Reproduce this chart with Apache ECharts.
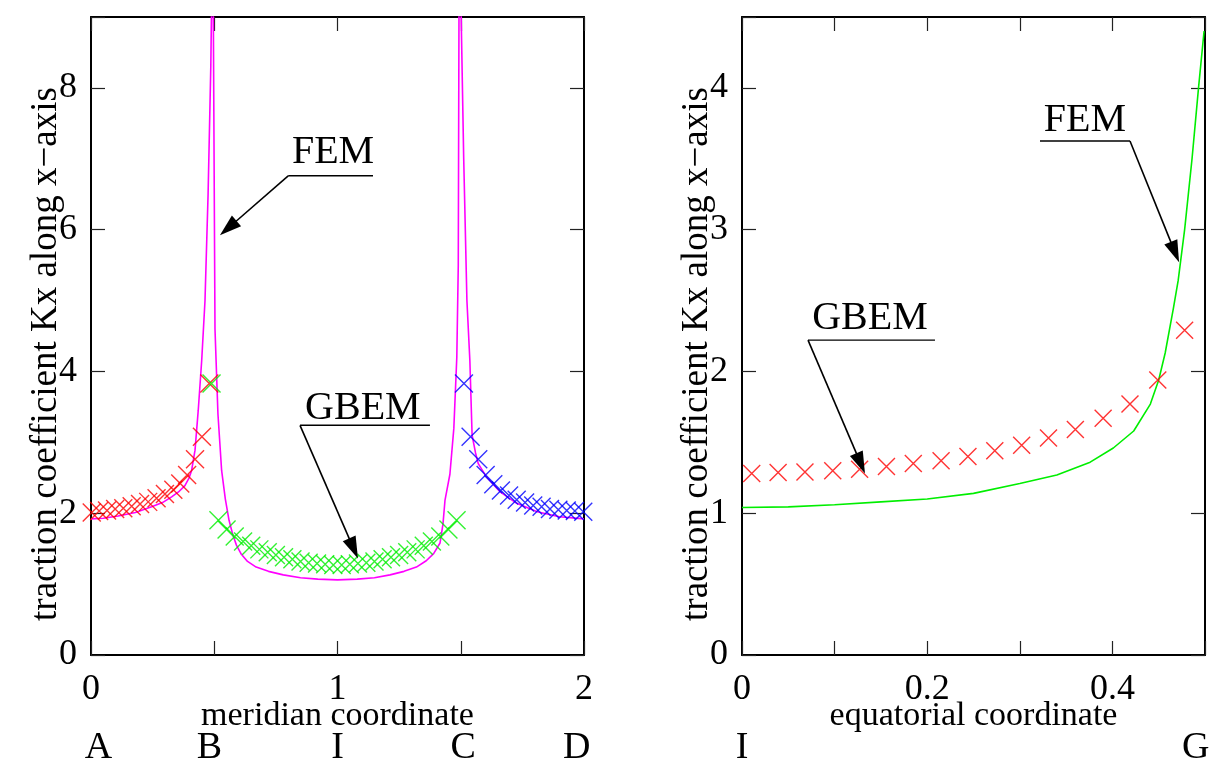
<!DOCTYPE html>
<html><head><meta charset="utf-8">
<script src="https://cdn.jsdelivr.net/npm/echarts@6/dist/echarts.min.js"></script>
<style>html,body{margin:0;padding:0;background:#fff}#c{width:1216px;height:765px}</style>
</head><body><div id="c"></div>
<script>
// ---------- data ----------
const femMeridian = [
  [0,1.92],[0.05,1.93],[0.11,1.96],[0.18,2.01],[0.246,2.09],[0.29,2.15],[0.327,2.23],[0.355,2.3],
  [0.381,2.39],[0.398,2.5],[0.408,2.6],[0.422,2.89],[0.435,3.45],[0.449,4.15],[0.4625,5.0],[0.475,6.5],
  [0.486,8.3],[0.494,10.5],[0.4975,10.5],[0.503,4.6],[0.515,3.4],[0.53,2.6],[0.545,2.2],[0.56,1.9],
  [0.575,1.7],[0.59,1.55],[0.61,1.42],[0.635,1.32],[0.67,1.24],[0.72,1.18],[0.78,1.13],[0.85,1.09],
  [0.92,1.07],[1.0,1.06],[1.08,1.07],[1.15,1.09],[1.213,1.13],[1.27,1.18],[1.32,1.24],[1.36,1.33],
  [1.39,1.43],[1.416,1.58],[1.428,1.85],[1.436,2.18],[1.456,2.55],[1.472,3.2],[1.484,4.2],[1.49,5.5],
  [1.494,10.5],[1.5,10.5],[1.512,7.0],[1.525,5.0],[1.537,4.15],[1.546,3.1],[1.56,2.85],[1.571,2.7],
  [1.605,2.51],[1.66,2.3],[1.727,2.14],[1.81,2.02],[1.9,1.95],[2.0,1.92]
];
const gbemRed = [
  [0.003,2.01],[0.033,2.03],[0.065,2.04],[0.098,2.06],[0.131,2.07],[0.165,2.10],[0.199,2.13],[0.232,2.16],
  [0.266,2.21],[0.3,2.27],[0.334,2.33],[0.362,2.42],[0.39,2.54],[0.422,2.76],[0.45,3.08],[0.48,3.83]
];
const gbemGreen = [
  [0.489,3.83],[0.517,1.90],[0.55,1.77],[0.583,1.67],[0.617,1.60],[0.65,1.54],[0.683,1.49],[0.717,1.45],
  [0.75,1.41],[0.783,1.38],[0.817,1.35],[0.85,1.32],[0.883,1.30],[0.917,1.29],[0.95,1.28],[0.983,1.27],
  [1.017,1.27],[1.05,1.28],[1.083,1.29],[1.117,1.30],[1.15,1.32],[1.183,1.35],[1.217,1.38],[1.25,1.41],
  [1.283,1.45],[1.317,1.49],[1.35,1.54],[1.383,1.60],[1.417,1.67],[1.45,1.77],[1.483,1.90]
];
const gbemBlue = [
  [1.513,3.83],[1.54,3.08],[1.571,2.76],[1.601,2.54],[1.632,2.41],[1.663,2.32],[1.696,2.25],[1.727,2.19],
  [1.761,2.15],[1.794,2.11],[1.828,2.09],[1.862,2.06],[1.896,2.05],[1.93,2.04],[1.963,2.03],[1.997,2.02]
];
const femEquatorial = [
  [0,1.04],[0.05,1.045],[0.1,1.06],[0.15,1.08],[0.2,1.10],[0.25,1.14],[0.3,1.21],[0.34,1.27],
  [0.376,1.36],[0.401,1.46],[0.423,1.58],[0.441,1.77],[0.45,1.94],[0.457,2.13],[0.466,2.45],[0.471,2.64],
  [0.478,3.0],[0.486,3.5],[0.493,4.0],[0.499,4.4]
];
const gbemEquatorial = [
  [0.0105,1.28],[0.039,1.287],[0.068,1.29],[0.098,1.30],[0.127,1.31],[0.156,1.33],[0.185,1.35],[0.215,1.37],
  [0.244,1.40],[0.273,1.44],[0.302,1.48],[0.331,1.53],[0.36,1.59],[0.39,1.67],[0.419,1.77],[0.449,1.94],[0.478,2.29]
];
const meridianLetters = ['A','B','I','C','D'];
const meridianLetterAt = [0.03,0.48,1.0,1.51,1.97];
const equatorLetters = ['I','G'];
const equatorLetterAt = [0.0,0.49];
const yTitle = 'traction coefficient Kx along x\u2212axis';
const xTitles = ['meridian coordinate','equatorial coordinate'];
// annotation anchors in data coordinates: text centre, underline (far end, arrow start), arrow tip
const notes = [
  {grid:0, text:'FEM',  at:[0.982,7.09], far:[1.144,6.76], start:[0.80,6.76], tip:[0.523,5.92]},
  {grid:0, text:'GBEM', at:[1.103,3.48], far:[1.375,3.24], start:[0.848,3.24], tip:[1.083,1.36]},
  {grid:1, text:'GBEM', at:[0.1382,2.376], far:[0.2084,2.221], start:[0.0713,2.221], tip:[0.1328,1.281]},
  {grid:1, text:'FEM',  at:[0.3704,3.773], far:[0.3218,3.625], start:[0.419,3.625], tip:[0.472,2.77]}
];

// ---------- chart ----------
const FONT = "'Liberation Serif','Times New Roman',serif";
const chart = echarts.init(document.getElementById('c'));
const lineStyleAxis = {color:'#000', width:2};
const tickStyle = {show:true, inside:true, length:14, lineStyle:{color:'#222', width:1.2}};

function xAxis(grid, max, interval, pos, fmt, name) {
  return {
    type:'value', gridIndex:grid, position:pos, min:0, max:max, interval:interval,
    axisLine:{show:true, onZero:false, lineStyle:lineStyleAxis},
    axisTick:tickStyle, splitLine:{show:false},
    axisLabel:{show:!!fmt, formatter:fmt, color:'#000', fontFamily:FONT, fontSize:36, margin:17,
               showMaxLabel:true, showMinLabel:true},
    name:name||'', nameLocation:'middle', nameGap:44, nameMoveOverlap:false,
    nameTextStyle:{color:'#000', fontFamily:FONT, fontSize:34}
  };
}
function yAxis(grid, max, interval, pos, fmt, name) {
  return {
    type:'value', gridIndex:grid, position:pos, min:0, max:max, interval:interval,
    axisLine:{show:true, onZero:false, lineStyle:lineStyleAxis},
    axisTick:tickStyle, splitLine:{show:false},
    axisLabel:{show:!!fmt, formatter:fmt, color:'#000', fontFamily:FONT, fontSize:36, margin:14},
    name:name||'', nameLocation:'middle', nameGap:26, nameRotate:90, nameMoveOverlap:false,
    nameTextStyle:{color:'#000', fontFamily:FONT, fontSize:37, padding:[0,36,0,0]}
  };
}
const fmtMer = v => (Math.abs(v - Math.round(v)) < 1e-9 ? String(Math.round(v)) : '');
const fmtEq = v => { const k = Math.round(v*10); return (k % 2 === 0 && k < 5) ? String(+(v.toFixed(1))) : ''; };
const fmtY2 = v => (v % 2 === 0 ? String(v) : '');
const fmtY1 = v => (Number.isInteger(v) ? String(v) : '');

const crossPath = 'path://M0,0L10,10M10,0L0,10';
function crosses(data, color, xi, yi, size) {
  return {type:'scatter', xAxisIndex:xi, yAxisIndex:yi, data:data, symbol:crossPath, symbolSize:size,
    clip:false, z:4, silent:true,
    itemStyle:{color:'rgba(0,0,0,0)', borderColor:color, borderWidth:1.4}};
}

chart.setOption({
  animation:false,
  backgroundColor:'#fff',
  grid:[
    {left:91, top:17, width:493, height:638},
    {left:742, top:17, width:463, height:638}
  ],
  xAxis:[
    xAxis(0, 2, 0.5, 'bottom', fmtMer, xTitles[0]),
    xAxis(0, 2, 0.5, 'top', null),
    xAxis(1, 0.5, 0.1, 'bottom', fmtEq, xTitles[1]),
    xAxis(1, 0.5, 0.1, 'top', null)
  ],
  yAxis:[
    yAxis(0, 9, 2, 'left', fmtY2, yTitle),
    yAxis(0, 9, 2, 'right', null),
    yAxis(1, 4.5, 1, 'left', fmtY1, yTitle),
    yAxis(1, 4.5, 1, 'right', null)
  ],
  series:[
    {type:'line', xAxisIndex:0, yAxisIndex:0, data:femMeridian, symbol:'none', showSymbol:false,
     clip:true, z:3, silent:true, lineStyle:{color:'#ff00ff', width:1.6}},
    crosses(gbemRed, '#ff0000', 0, 0, 18),
    crosses(gbemGreen, '#00ee00', 0, 0, 18),
    crosses(gbemBlue, '#0000ff', 0, 0, 18),
    {type:'line', xAxisIndex:2, yAxisIndex:2, data:femEquatorial, symbol:'none', showSymbol:false,
     clip:true, z:3, silent:true, lineStyle:{color:'#00ee00', width:1.6}},
    crosses(gbemEquatorial, '#ff0000', 2, 2, 17)
  ]
});

// ---------- annotations & point letters ----------
function toPx(grid, p) { return chart.convertToPixel({xAxisIndex:grid*2, yAxisIndex:grid*2}, p); }
const elements = [];
notes.forEach(n => {
  const c = toPx(n.grid, n.at), a = toPx(n.grid, n.far), s = toPx(n.grid, n.start), t = toPx(n.grid, n.tip);
  elements.push({type:'text', x:c[0], y:c[1], style:{text:n.text, font:'40px ' + FONT, fill:'#000',
    textAlign:'center', textVerticalAlign:'middle'}, z:10});
  elements.push({type:'line', shape:{x1:a[0], y1:a[1], x2:s[0], y2:s[1]}, style:{stroke:'#000', lineWidth:1.4}, z:10});
  const dx = t[0]-s[0], dy = t[1]-s[1], len = Math.hypot(dx, dy), ux = dx/len, uy = dy/len;
  const L = 22, W = 7, bx = t[0]-ux*L, by = t[1]-uy*L;
  elements.push({type:'line', shape:{x1:s[0], y1:s[1], x2:bx+ux*4, y2:by+uy*4}, style:{stroke:'#000', lineWidth:1.6}, z:10});
  elements.push({type:'polygon', shape:{points:[[t[0],t[1]],[bx-uy*W, by+ux*W],[bx+uy*W, by-ux*W]]},
    style:{fill:'#000'}, z:10});
});
const yBase = toPx(0, [0,0])[1];
meridianLetters.forEach((l, i) => {
  const p = toPx(0, [meridianLetterAt[i], 0]);
  elements.push({type:'text', x:p[0], y:yBase+93, style:{text:l, font:'38px ' + FONT, fill:'#000',
    textAlign:'center', textVerticalAlign:'middle'}, z:10});
});
equatorLetters.forEach((l, i) => {
  const p = toPx(1, [equatorLetterAt[i], 0]);
  elements.push({type:'text', x:p[0], y:yBase+93, style:{text:l, font:'38px ' + FONT, fill:'#000',
    textAlign:'center', textVerticalAlign:'middle'}, z:10});
});
chart.setOption({graphic:{elements:elements}});
</script>
</body></html>
